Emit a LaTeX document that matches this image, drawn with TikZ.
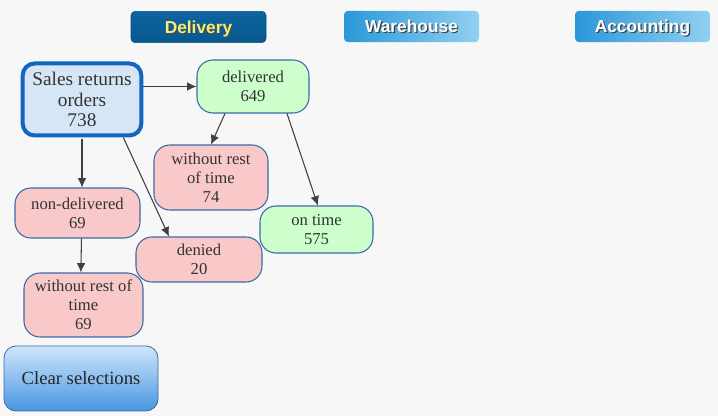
\documentclass[tikz,border=0pt]{standalone}
\usepackage{fontspec}
\setmainfont{Liberation Serif}
\setsansfont{Liberation Sans}
\usepackage{xcolor}
\usetikzlibrary{arrows.meta,positioning,calc}

\definecolor{bgcol}{HTML}{F7F7F7}
\definecolor{txtcol}{HTML}{333333}
\definecolor{edgecol}{HTML}{3A6AA8}
\definecolor{salesfill}{HTML}{D6E6F7}
\definecolor{salesedge}{HTML}{1166C0}
\definecolor{okfill}{HTML}{CCFFCC}
\definecolor{badfill}{HTML}{F9C9C9}
\definecolor{arrcol}{HTML}{404040}

% text with a small drop shadow
\newcommand{\shadtext}[2]{\makebox[0pt][l]{\hspace{0.9pt}\raisebox{-0.9pt}[0pt][0pt]{\color{#1}#2}}#2}

\begin{document}
\begin{tikzpicture}[
    x=0.75pt, y=-0.75pt,
    >={Latex[length=7pt,width=6.5pt]},
    tabbox/.style={rounded corners=3pt, minimum width=101.25pt, minimum height=23.5pt, inner sep=0pt,
        text height=9.4pt, text depth=0pt,
        font=\sffamily\bfseries\fontsize{13}{15}\selectfont},
    stat/.style={draw=edgecol, line width=0.8pt, rounded corners=12pt, align=center, inner sep=1pt,
        text=txtcol, font=\fontsize{12.5}{14.25}\selectfont},
    okstat/.style={stat, fill=okfill},
    badstat/.style={stat, fill=badfill},
    arr/.style={->, draw=arrcol, line width=0.8pt}
]
\fill[bgcol] (0,0) rectangle (718,416);
\useasboundingbox (0,0) rectangle (718,416);

% tabs
\node[tabbox, top color={rgb,255:red,12;green,100;blue,160}, bottom color={rgb,255:red,8;green,88;blue,142}, draw={rgb,255:red,10;green,80;blue,130}]
    (tabdel) at (198.5,27) {\color[HTML]{F2EE78}\shadtext{black!70}{Delivery}};
\node[tabbox, left color={rgb,255:red,42;green,152;blue,216}, right color={rgb,255:red,145;green,208;blue,242}]
    (tabwh) at (411.5,26.5) {\color{white}\shadtext{black!75}{Warehouse}};
\node[tabbox, left color={rgb,255:red,42;green,152;blue,216}, right color={rgb,255:red,145;green,208;blue,242}]
    (tabacc) at (642.5,26.5) {\color{white}\shadtext{black!75}{Accounting}};

% flow
\node[stat, fill=salesfill, draw=salesedge, line width=3pt, rounded corners=9pt,
      minimum width=89pt, minimum height=54pt, font=\fontsize{14.5}{15.4}\selectfont]
    (sales) at (82,99.5) {Sales returns\\orders\\738};
\node[okstat, minimum width=84pt, minimum height=39.75pt] (delivered) at (253,86.5) {delivered\\649};
\node[badstat, minimum width=85.5pt, minimum height=48.75pt] (without74) at (211,177.5) {without rest\\of time\\74};
\node[okstat, minimum width=84.75pt, minimum height=35.25pt] (ontime) at (316.5,229.5) {on time\\575};
\node[badstat, minimum width=93.75pt, minimum height=37.5pt] (nondel) at (77.5,213) {non-delivered\\69};
\node[badstat, minimum width=94.5pt, minimum height=33.75pt] (denied) at (199,259.5) {denied\\20};
\node[badstat, minimum width=89.25pt, minimum height=48pt] (without69) at (83.5,305) {without rest of\\time\\69};

\node[draw=edgecol, line width=0.6pt, rounded corners=9pt, top color={rgb,255:red,208;green,230;blue,250},
      bottom color={rgb,255:red,72;green,150;blue,225}, minimum width=115.5pt, minimum height=48.75pt,
      text=black!85, font=\fontsize{14}{16}\selectfont]
    (clear) at (81,378.5) {Clear selections};

\draw[arr] (sales.east |- delivered.west) -- (delivered.west);
\draw[arr] ([yshift=-1pt]sales.south) -- (sales.south |- nondel.north);
\draw[arr] ([xshift=-15pt]sales.south east) -- ([xshift=-22.5pt]denied.north);
\draw[arr] ([xshift=-21pt]delivered.south) -- (without74.north);
\draw[arr] ([xshift=25.5pt]delivered.south) -- ([xshift=1pt]ontime.north);
\draw[arr] ([xshift=3pt]nondel.south) -- ([xshift=-2pt]without69.north);
\end{tikzpicture}
\end{document}
